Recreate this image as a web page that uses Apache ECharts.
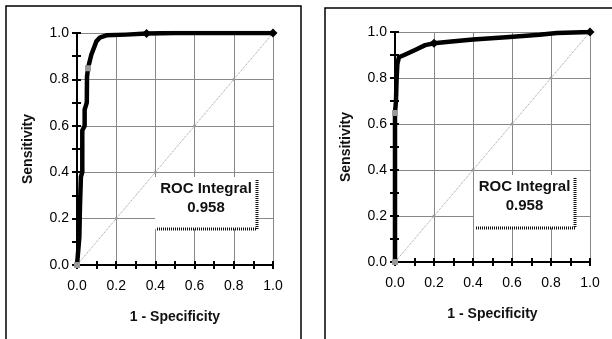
<!DOCTYPE html>
<html>
<head>
<meta charset="utf-8">
<script src="https://cdn.jsdelivr.net/npm/echarts@6/dist/echarts.min.js"></script>
<style>
  html, body { margin: 0; padding: 0; background: #fff; }
  #main { width: 612px; height: 339px; }
</style>
</head>
<body>
<div id="main"></div>
<script>
// ROC curve of the left panel (1 - specificity, sensitivity)
var leftFpr = [0, 0.005, 0.012, 0.015, 0.02, 0.027, 0.027, 0.039, 0.039, 0.05, 0.051, 0.056, 0.073, 0.099, 0.116, 0.15, 0.25, 0.355, 0.5, 1.0];
var leftTpr = [0, 0.05, 0.12, 0.25, 0.38, 0.4, 0.58, 0.6, 0.67, 0.7, 0.81, 0.848, 0.906, 0.964, 0.98, 0.99, 0.993, 0.998, 1.0, 1.0];
var leftGray = [0, 11];
var leftBlack = [17, 19];

// ROC curve of the right panel
var rightFpr = [0, 0, 0, 0.005, 0.008, 0.012, 0.02, 0.05, 0.103, 0.155, 0.2, 0.29, 0.4, 0.57, 0.74, 0.83, 1.0];
var rightTpr = [0, 0.3, 0.648, 0.7, 0.79, 0.86, 0.89, 0.901, 0.922, 0.943, 0.951, 0.959, 0.967, 0.977, 0.988, 0.996, 1.0];
var rightGray = [0, 2];
var rightBlack = [10, 16];

// chance line
var diag = [0, 0.2, 0.4, 0.6, 0.8, 1.0];

var rocIntegral = ['0.958', '0.958'];

var chart = echarts.init(document.getElementById('main'), null, { renderer: 'canvas' });

var font = 'Liberation Sans, Arial, sans-serif';

function rocData(fpr, tpr, gray, black) {
  return fpr.map(function (x, i) {
    var item = { value: [x, tpr[i]] };
    if (gray.indexOf(i) >= 0) {
      item.symbol = 'rect';
      item.symbolSize = 6;
      item.itemStyle = { color: '#999' };
    } else if (black.indexOf(i) >= 0) {
      item.symbol = 'diamond';
      item.symbolSize = 9;
      item.itemStyle = { color: '#000' };
    }
    return item;
  });
}

var tickStyle = { color: '#000', width: 2 };

function xAxes(gi) {
  return [
    {
      type: 'value', gridIndex: gi, position: 'bottom', min: 0, max: 1, interval: 0.2,
      name: '1 - Specificity', nameLocation: 'middle', nameGap: 45,
      nameTextStyle: { fontFamily: font, fontSize: 14, fontWeight: 'bold', color: '#111' },
      axisLine: { lineStyle: { color: '#000', width: 2 } },
      axisTick: { length: 4, lineStyle: tickStyle },
      minorTick: { show: true, splitNumber: 2, length: 4, lineStyle: tickStyle },
      axisLabel: { margin: 14, fontFamily: font, fontSize: 14, color: '#000',
        formatter: function (v) { return v.toFixed(1); } },
      splitLine: { show: true, lineStyle: { color: '#888', width: 1 } }
    },
    {
      type: 'value', gridIndex: gi, position: 'bottom', min: 0, max: 1, interval: 0.2,
      axisLine: { show: false },
      axisTick: { inside: true, length: 4, lineStyle: tickStyle },
      minorTick: { show: true, splitNumber: 2, length: 4, lineStyle: tickStyle },
      axisLabel: { show: false },
      splitLine: { show: false }
    }
  ];
}

function yAxes(gi) {
  return [
    {
      type: 'value', gridIndex: gi, position: 'left', min: 0, max: 1, interval: 0.2,
      name: 'Sensitivity', nameLocation: 'middle', nameGap: 42, nameRotate: 90,
      nameTextStyle: { fontFamily: font, fontSize: 14, fontWeight: 'bold', color: '#111' },
      axisLine: { lineStyle: { color: '#000', width: 2 } },
      axisTick: { length: 5, lineStyle: tickStyle },
      minorTick: { show: true, splitNumber: 2, length: 5, lineStyle: tickStyle },
      axisLabel: { margin: 8, fontFamily: font, fontSize: 14, color: '#000',
        formatter: function (v) { return v.toFixed(1); } },
      splitLine: { show: true, lineStyle: { color: '#888', width: 1 } }
    },
    {
      type: 'value', gridIndex: gi, position: 'left', min: 0, max: 1, interval: 0.2,
      axisLine: { show: false },
      axisTick: { inside: true, length: 4, lineStyle: tickStyle },
      minorTick: { show: true, splitNumber: 2, length: 4, lineStyle: tickStyle },
      axisLabel: { show: false },
      splitLine: { show: false }
    }
  ];
}

function diagSeries(ai) {
  return {
    type: 'line', xAxisIndex: ai, yAxisIndex: ai,
    data: diag.map(function (v) { return [v, v]; }),
    symbol: 'circle', symbolSize: 3, itemStyle: { color: '#999' },
    lineStyle: { color: '#999', width: 1, type: 'dotted' },
    silent: true, z: 3
  };
}

function rocSeries(ai, fpr, tpr, gray, black) {
  return {
    type: 'line', xAxisIndex: ai, yAxisIndex: ai,
    data: rocData(fpr, tpr, gray, black),
    symbol: 'none', showSymbol: true,
    lineStyle: { color: '#000', width: 4.5, join: 'round' },
    itemStyle: { color: '#000' },
    silent: true, z: 5
  };
}

// annotation box: white block, text, dotted shadow on right and bottom
function rocBox(x, y, w, h, value) {
  return [
    { type: 'rect', z: 100, shape: { x: x, y: y, width: w, height: h }, style: { fill: '#fff' } },
    { type: 'text', z: 101, x: x + w / 2, y: y + 12,
      style: { text: 'ROC Integral', fontFamily: font, fontSize: 15, fontWeight: 'bold', fill: '#111', align: 'center', verticalAlign: 'middle' } },
    { type: 'text', z: 101, x: x + w / 2, y: y + 31,
      style: { text: value, fontFamily: font, fontSize: 15, fontWeight: 'bold', fill: '#111', align: 'center', verticalAlign: 'middle' } },
    { type: 'polyline', z: 101, shape: { points: [[x + w, y + 3], [x + w, y + h], [x + 1, y + h]] },
      style: { stroke: '#111', lineWidth: 3, lineDash: [1, 1], fill: null } }
  ];
}

var option = {
  animation: false,
  backgroundColor: '#fff',
  grid: [
    { left: 77, top: 33, width: 196, height: 232 },
    { left: 395, top: 32, width: 195, height: 230 }
  ],
  xAxis: xAxes(0).concat(xAxes(1)),
  yAxis: yAxes(0).concat(yAxes(1)),
  series: [
    diagSeries(0),
    rocSeries(0, leftFpr, leftTpr, leftGray, leftBlack),
    diagSeries(2),
    rocSeries(2, rightFpr, rightTpr, rightGray, rightBlack)
  ],
  graphic: [
    { type: 'rect', z: 90, shape: { x: 6, y: 6, width: 295, height: 345 }, style: { fill: null, stroke: '#000', lineWidth: 1.5 } },
    { type: 'rect', z: 90, shape: { x: 325, y: 8, width: 300, height: 345 }, style: { fill: null, stroke: '#000', lineWidth: 1.5 } }
  ]
    .concat(rocBox(155, 177, 102, 52, rocIntegral[0]))
    .concat(rocBox(474, 175, 101, 53, rocIntegral[1]))
};

chart.setOption(option);
</script>
</body>
</html>
